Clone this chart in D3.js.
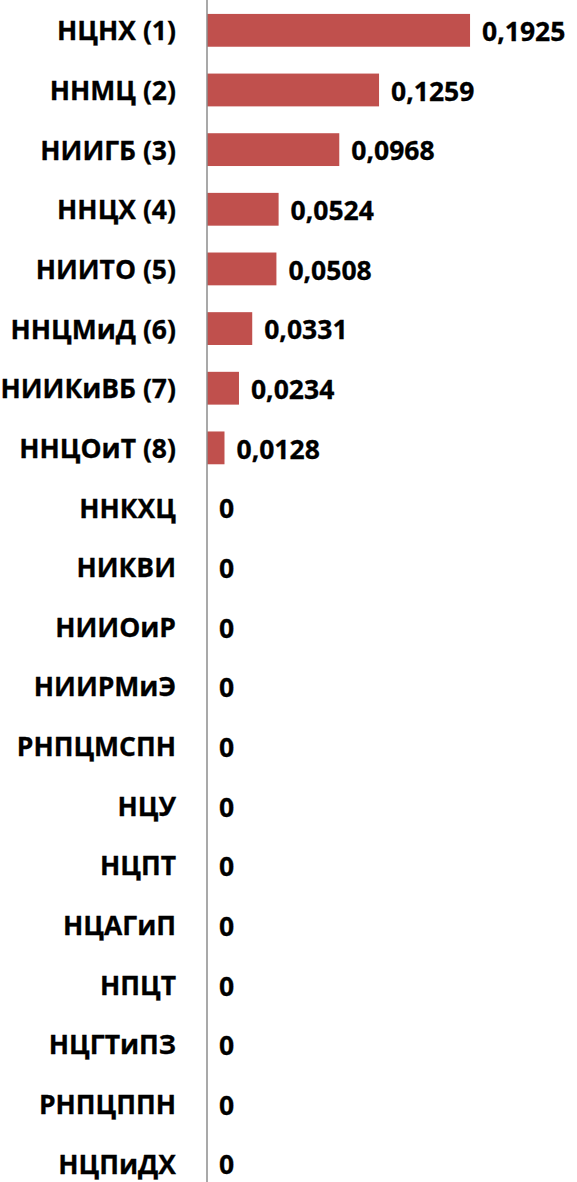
<!DOCTYPE html>
<html lang="ru">
<head>
  <meta charset="UTF-8">
  <script src="https://d3js.org/d3.v7.min.js"></script>
  <style>
    body { margin: 0; background: #fff; }
    text { font-family: "Open Sans", "DejaVu Sans", sans-serif; font-weight: bold; }
  </style>
</head>
<body>
  <script>
    // institutes, top to bottom
    var categories = ["НЦНХ (1)", "ННМЦ (2)", "НИИГБ (3)", "ННЦХ (4)", "НИИТО (5)", "ННЦМиД (6)",
      "НИИКиВБ (7)", "ННЦОиТ (8)", "ННКХЦ", "НИКВИ", "НИИОиР", "НИИРМиЭ", "РНПЦМСПН", "НЦУ",
      "НЦПТ", "НЦАГиП", "НПЦТ", "НЦГТиПЗ", "РНПЦППН", "НЦПиДХ"];
    var values = [0.1925, 0.1259, 0.0968, 0.0524, 0.0508, 0.0331, 0.0234, 0.0128,
      0, 0, 0, 0, 0, 0, 0, 0, 0, 0, 0, 0];
    var valueLabels = ["0,1925", "0,1259", "0,0968", "0,0524", "0,0508", "0,0331", "0,0234", "0,0128",
      "0", "0", "0", "0", "0", "0", "0", "0", "0", "0", "0", "0"];

    var w = 577, h = 1182;
    var fontSize = "26.5px";
    var svg = d3.select("body").append("svg")
      .attr("width", w)
      .attr("height", h);

    var xScale = d3.scaleLinear()
      .domain([0, 0.2])
      .range([207, 480.3]);
    var yScale = d3.scaleBand()
      .domain(categories)
      .range([0.5, 1193.5])
      .paddingInner(0.45)
      .paddingOuter(0.225);

    // bars
    svg.selectAll("rect.bar")
      .data(values)
      .enter()
      .append("rect")
      .attr("class", "bar")
      .attr("x", xScale(0))
      .attr("y", function (d, i) { return yScale(categories[i]); })
      .attr("width", function (d) { return xScale(d) - xScale(0); })
      .attr("height", yScale.bandwidth())
      .attr("fill", "#C0504D");

    // value labels
    svg.selectAll("text.val")
      .data(values)
      .enter()
      .append("text")
      .attr("class", "val")
      .attr("x", function (d) { return xScale(d) + 12; })
      .attr("y", function (d, i) { return yScale(categories[i]) + yScale.bandwidth() / 2 + 1.5; })
      .attr("dy", "0.35em")
      .attr("font-size", fontSize)
      .attr("fill", "#000")
      .attr("stroke", "#000")
      .attr("stroke-width", 0.3)
      .text(function (d, i) { return valueLabels[i]; });

    // category axis
    var yAxis = d3.axisLeft(yScale)
      .tickSize(0)
      .tickPadding(31);
    var g = svg.append("g")
      .attr("transform", "translate(" + xScale(0) + ",1.5)")
      .call(yAxis);
    g.select(".domain")
      .attr("stroke", "#8c8c8c")
      .attr("stroke-width", 1.5)
      .attr("d", "M0,-2V" + h);
    g.selectAll(".tick text")
      .attr("font-size", fontSize)
      .attr("font-family", "'Open Sans', 'DejaVu Sans', sans-serif")
      .attr("font-weight", "bold")
      .attr("fill", "#000")
      .attr("stroke", "#000")
      .attr("stroke-width", 0.3);
  </script>
</body>
</html>
